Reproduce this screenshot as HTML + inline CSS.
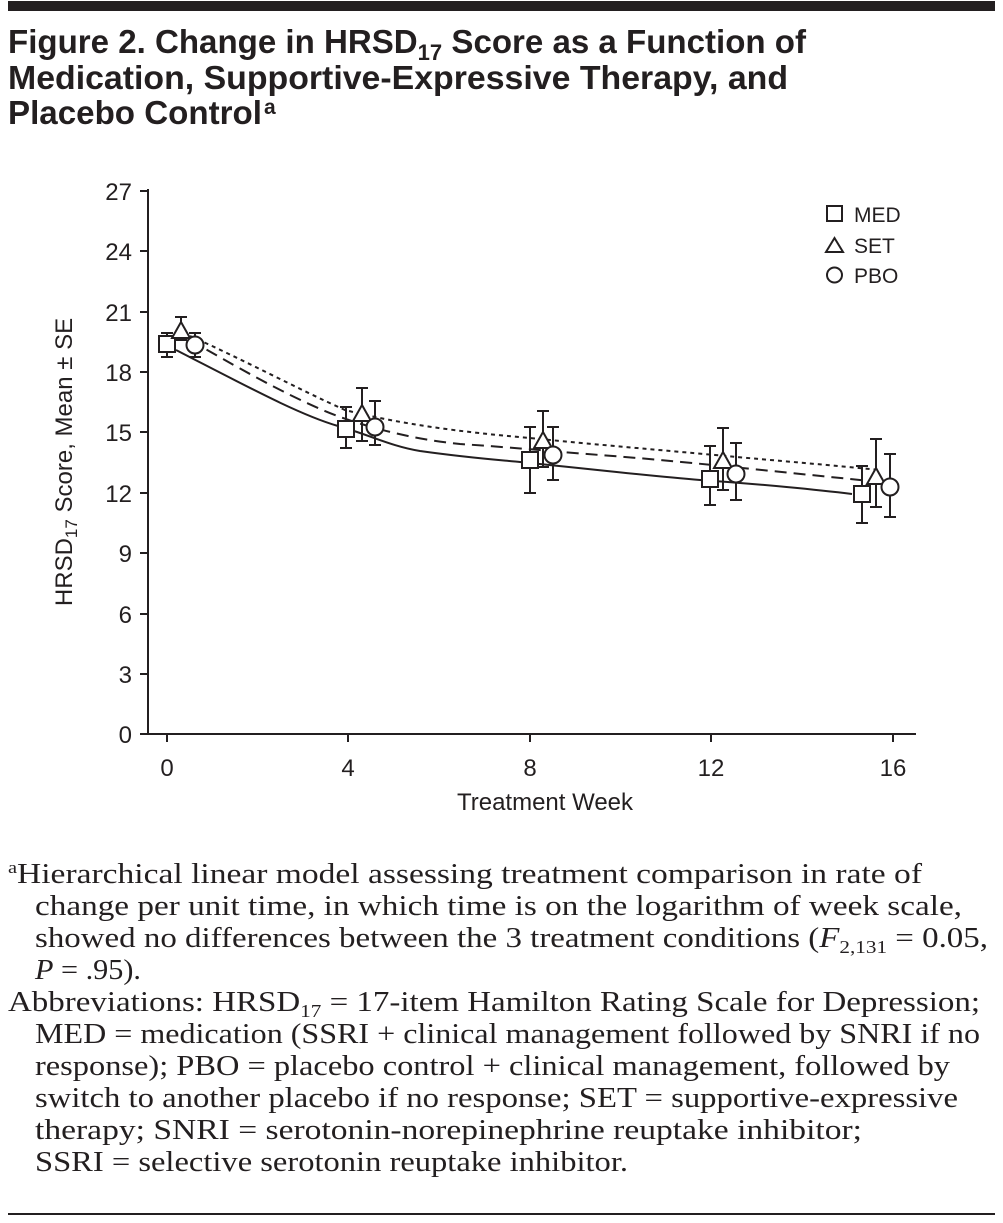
<!DOCTYPE html>
<html><head><meta charset="utf-8"><style>
html,body{margin:0;padding:0;background:#fff;}
svg{display:block;}
.t{font-family:"Liberation Sans",sans-serif;font-weight:bold;font-size:33px;fill:#231f20;}
.s{font-family:"Liberation Sans",sans-serif;font-size:24px;fill:#231f20;}
.f{font-family:"Liberation Serif",serif;font-size:28px;fill:#231f20;}
</style></head><body>
<svg width="1003" height="1223" viewBox="0 0 1003 1223" xmlns="http://www.w3.org/2000/svg">
<rect x="8" y="1" width="987" height="10" fill="#231f20"/>
<text class="t" x="8" y="53" textLength="798" lengthAdjust="spacingAndGlyphs">Figure 2. Change in HRSD<tspan font-size="22" dy="7">17</tspan><tspan dy="-7"> Score as a Function of</tspan></text>
<text class="t" x="8" y="89" textLength="780" lengthAdjust="spacingAndGlyphs">Medication, Supportive-Expressive Therapy, and</text>
<text class="t" x="8" y="124" textLength="254" lengthAdjust="spacingAndGlyphs">Placebo Control</text>
<text class="t" x="264" y="114" style="font-size:21px">a</text>

<g stroke="#231f20" stroke-width="2" fill="none">
<line x1="148" y1="189" x2="148" y2="735"/>
<line x1="147" y1="734" x2="916" y2="734"/>
<line x1="140" y1="191" x2="148" y2="191"/><line x1="140" y1="251" x2="148" y2="251"/>
<line x1="140" y1="312" x2="148" y2="312"/><line x1="140" y1="372" x2="148" y2="372"/>
<line x1="140" y1="432" x2="148" y2="432"/><line x1="140" y1="493" x2="148" y2="493"/>
<line x1="140" y1="553" x2="148" y2="553"/><line x1="140" y1="614" x2="148" y2="614"/>
<line x1="140" y1="674" x2="148" y2="674"/><line x1="140" y1="734" x2="148" y2="734"/>
<line x1="167" y1="734" x2="167" y2="742"/><line x1="348" y1="734" x2="348" y2="742"/>
<line x1="530" y1="734" x2="530" y2="742"/><line x1="711" y1="734" x2="711" y2="742"/>
<line x1="893" y1="734" x2="893" y2="742"/>
</g>
<g class="s" text-anchor="end">
<text x="132" y="200">27</text><text x="132" y="260">24</text><text x="132" y="321">21</text>
<text x="132" y="381">18</text><text x="132" y="441">15</text><text x="132" y="502">12</text>
<text x="132" y="562">9</text><text x="132" y="623">6</text><text x="132" y="683">3</text><text x="132" y="743">0</text>
</g>
<g class="s" text-anchor="middle">
<text x="167" y="776">0</text><text x="348" y="776">4</text><text x="530" y="776">8</text>
<text x="711" y="776">12</text><text x="893" y="776">16</text>
<text x="545" y="810">Treatment Week</text>
</g>
<text class="s" transform="translate(72,462) rotate(-90)" text-anchor="middle">HRSD<tspan font-size="17" dy="5">17</tspan><tspan dy="-5"> Score, Mean ± SE</tspan></text>

<g stroke="#231f20" fill="none" stroke-width="2">
<path d="M176,350 C250,388 300,415 338,426 C370,435 390,446 420,451 C470,458 500,460 520,462 C600,470 650,476 700,480 C760,484 820,490 852,494"/>
<path stroke-dasharray="12,7" d="M190,340 C250,375 300,402 340,417 C380,431 420,440 460,444 C520,448 560,452 600,455 C680,461 760,470 880,482"/>
<path stroke-dasharray="4,4" d="M190,336 C240,358 300,390 345,410 C400,424 460,432 530,438 C600,445 660,450 715,455 C780,461 830,465 880,470"/>
</g>
<g stroke="#231f20" stroke-width="2" fill="none">
<path d="M167,333V357M161,333H173M161,357H173"/>
<path d="M346,407V448M340,407H352M340,448H352"/>
<path d="M530,427V493M524,427H536M524,493H536"/>
<path d="M710,446V505M704,446H716M704,505H716"/>
<path d="M862,466V523M856,466H868M856,523H868"/>
<path d="M181,317V340M175,317H187M175,340H187"/>
<path d="M362,388V441M356,388H368M356,441H368"/>
<path d="M543,411V467M537,411H549M537,467H549"/>
<path d="M723,428V490M717,428H729M717,490H729"/>
<path d="M876,439V507M870,439H882M870,507H882"/>
<path d="M195,333V357M189,333H201M189,357H201"/>
<path d="M375,401V445M369,401H381M369,445H381"/>
<path d="M553,427V480M547,427H559M547,480H559"/>
<path d="M736,443V500M730,443H742M730,500H742"/>
<path d="M890,454V517M884,454H896M884,517H896"/>
</g>
<g stroke="#231f20" stroke-width="2" fill="#fff">
<rect x="159" y="336" width="16" height="16"/>
<rect x="338" y="421" width="16" height="16"/>
<rect x="522" y="452" width="16" height="16"/>
<rect x="702" y="471" width="16" height="16"/>
<rect x="854" y="486" width="16" height="16"/>
<path d="M181,322L190,338H172Z"/>
<path d="M362,405L371,421H353Z"/>
<path d="M543,432L552,448H534Z"/>
<path d="M723,452L732,468H714Z"/>
<path d="M876,468L885,484H867Z"/>
<circle cx="195" cy="345" r="8.5"/>
<circle cx="375" cy="427" r="8.5"/>
<circle cx="553" cy="455" r="8.5"/>
<circle cx="736" cy="474" r="8.5"/>
<circle cx="890" cy="487" r="8.5"/>
<rect x="827" y="206" width="15" height="15"/>
<path d="M834.5,238L843,252H826Z"/>
<circle cx="834.5" cy="275" r="7.5"/>
</g>
<text class="s" x="854" y="222" style="font-size:21px">MED</text>
<text class="s" x="854" y="253" style="font-size:21px">SET</text>
<text class="s" x="854" y="283" style="font-size:21px">PBO</text>

<g class="f">
<text x="8" y="883" textLength="914" lengthAdjust="spacingAndGlyphs"><tspan font-size="17" dy="-10">a</tspan><tspan dy="10">Hierarchical linear model assessing treatment comparison in rate of</tspan></text>
<text x="35" y="915" textLength="927" lengthAdjust="spacingAndGlyphs">change per unit time, in which time is on the logarithm of week scale,</text>
<text x="35" y="947" textLength="953" lengthAdjust="spacingAndGlyphs">showed no differences between the 3 treatment conditions (<tspan font-style="italic">F</tspan><tspan font-size="18" dy="6">2,131</tspan><tspan dy="-6"> = 0.05,</tspan></text>
<text x="35" y="979" textLength="106" lengthAdjust="spacingAndGlyphs"><tspan font-style="italic">P</tspan> = .95).</text>
<text x="8" y="1011" textLength="972" lengthAdjust="spacingAndGlyphs">Abbreviations: HRSD<tspan font-size="18" dy="6">17</tspan><tspan dy="-6"> = 17-item Hamilton Rating Scale for Depression;</tspan></text>
<text x="35" y="1043" textLength="945" lengthAdjust="spacingAndGlyphs">MED = medication (SSRI + clinical management followed by SNRI if no</text>
<text x="35" y="1075" textLength="915" lengthAdjust="spacingAndGlyphs">response); PBO = placebo control + clinical management, followed by</text>
<text x="35" y="1107" textLength="923" lengthAdjust="spacingAndGlyphs">switch to another placebo if no response; SET = supportive-expressive</text>
<text x="35" y="1139" textLength="827" lengthAdjust="spacingAndGlyphs">therapy; SNRI = serotonin-norepinephrine reuptake inhibitor;</text>
<text x="35" y="1171" textLength="593" lengthAdjust="spacingAndGlyphs">SSRI = selective serotonin reuptake inhibitor.</text>
</g>
<rect x="8" y="1213" width="987" height="2" fill="#231f20"/>
</svg>
</body></html>
